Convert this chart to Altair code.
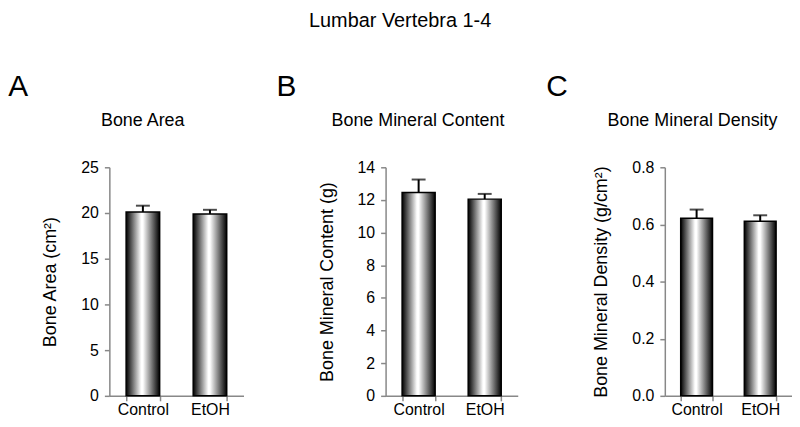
import altair as alt
import pandas as pd

groups = ["Control", "EtOH"]

area = [20.1, 19.9]
area_err = [0.7, 0.45]

bmc = [12.45, 12.05]
bmc_err = [0.8, 0.32]

bmd = [0.622, 0.611]
bmd_err = [0.03, 0.021]

FONT = "Liberation Sans"

grad = alt.Gradient(
    gradient="linear",
    stops=[
        alt.GradientStop(color="#000000", offset=0),
        alt.GradientStop(color="#ffffff", offset=0.45),
        alt.GradientStop(color="#ffffff", offset=0.5),
        alt.GradientStop(color="#000000", offset=1),
    ],
    x1=0, x2=1, y1=0, y2=0,
)


def panel(vals, errs, ytitle, ptitle, letter, ymax, ystep, fmt, width, letter_dx):
    df = pd.DataFrame({"g": groups, "v": vals, "e": errs})
    df["hi"] = df["v"] + df["e"]
    ticks = [round(i * ystep, 4) for i in range(int(round(ymax / ystep)) + 1)]
    x = alt.X("g:N", sort=groups, title=None,
              scale=alt.Scale(paddingInner=0.5, paddingOuter=0.25),
              axis=alt.Axis(labelAngle=0, tickBand="extent", tickSize=5,
                            labelPadding=1))
    yscale = alt.Scale(domain=[0, ymax], nice=False, zero=True)
    yaxis = alt.Axis(values=ticks, format=fmt, grid=False, tickSize=5,
                     labelPadding=6, titlePadding=21, labelOverlap=False)
    base = alt.Chart(df)
    rule = base.mark_rule(color="black", strokeWidth=2).encode(
        x=x, y=alt.Y("v:Q", title=ytitle, scale=yscale, axis=yaxis), y2="hi:Q")
    cap = base.mark_tick(color="black", thickness=2, size=14).encode(
        x=x, y=alt.Y("hi:Q", title=ytitle, scale=yscale, axis=yaxis))
    bars = base.mark_bar(fill=grad, stroke="black", strokeWidth=1.5).encode(
        x=x, y=alt.Y("v:Q", title=ytitle, scale=yscale, axis=yaxis))
    layered = alt.layer(rule, cap, bars).properties(
        width=width, height=230,
        title=alt.TitleParams(ptitle, anchor="middle", frame="bounds",
                              fontSize=18, font=FONT, fontWeight="normal",
                              offset=30),
    )
    return alt.vconcat(layered, title=alt.TitleParams(
        letter, anchor="start", fontSize=30, font=FONT, fontWeight="normal",
        dx=letter_dx, offset=10))


pA = panel(area, area_err, "Bone Area (cm²)", "Bone Area", "A", 25, 5, "d", 135, -34)
pB = panel(bmc, bmc_err, "Bone Mineral Content (g)", "Bone Mineral Content", "B", 14, 2, "d", 133, -42)
pC = panel(bmd, bmd_err, "Bone Mineral Density (g/cm²)", "Bone Mineral Density", "C", 0.8, 0.2, ".1f", 128, -47)

chart = alt.hconcat(alt.hconcat(pA, pB, spacing=33), pC, spacing=28).properties(
    title=alt.TitleParams("Lumbar Vertebra 1-4", anchor="middle", fontSize=20,
                          font=FONT, fontWeight="normal", offset=41),
    padding={"left": 0, "top": 2, "right": 0, "bottom": 0},
).configure_view(stroke=None).configure_axis(
    domainColor="#888888", tickColor="#888888", labelColor="black",
    titleColor="black", labelFont=FONT, titleFont=FONT, labelFontSize=16,
    titleFontSize=18, titleFontWeight="normal", domainWidth=1.5, tickWidth=1.5,
)

chart.save("out.html", embed_options={"renderer": "svg", "actions": False})
